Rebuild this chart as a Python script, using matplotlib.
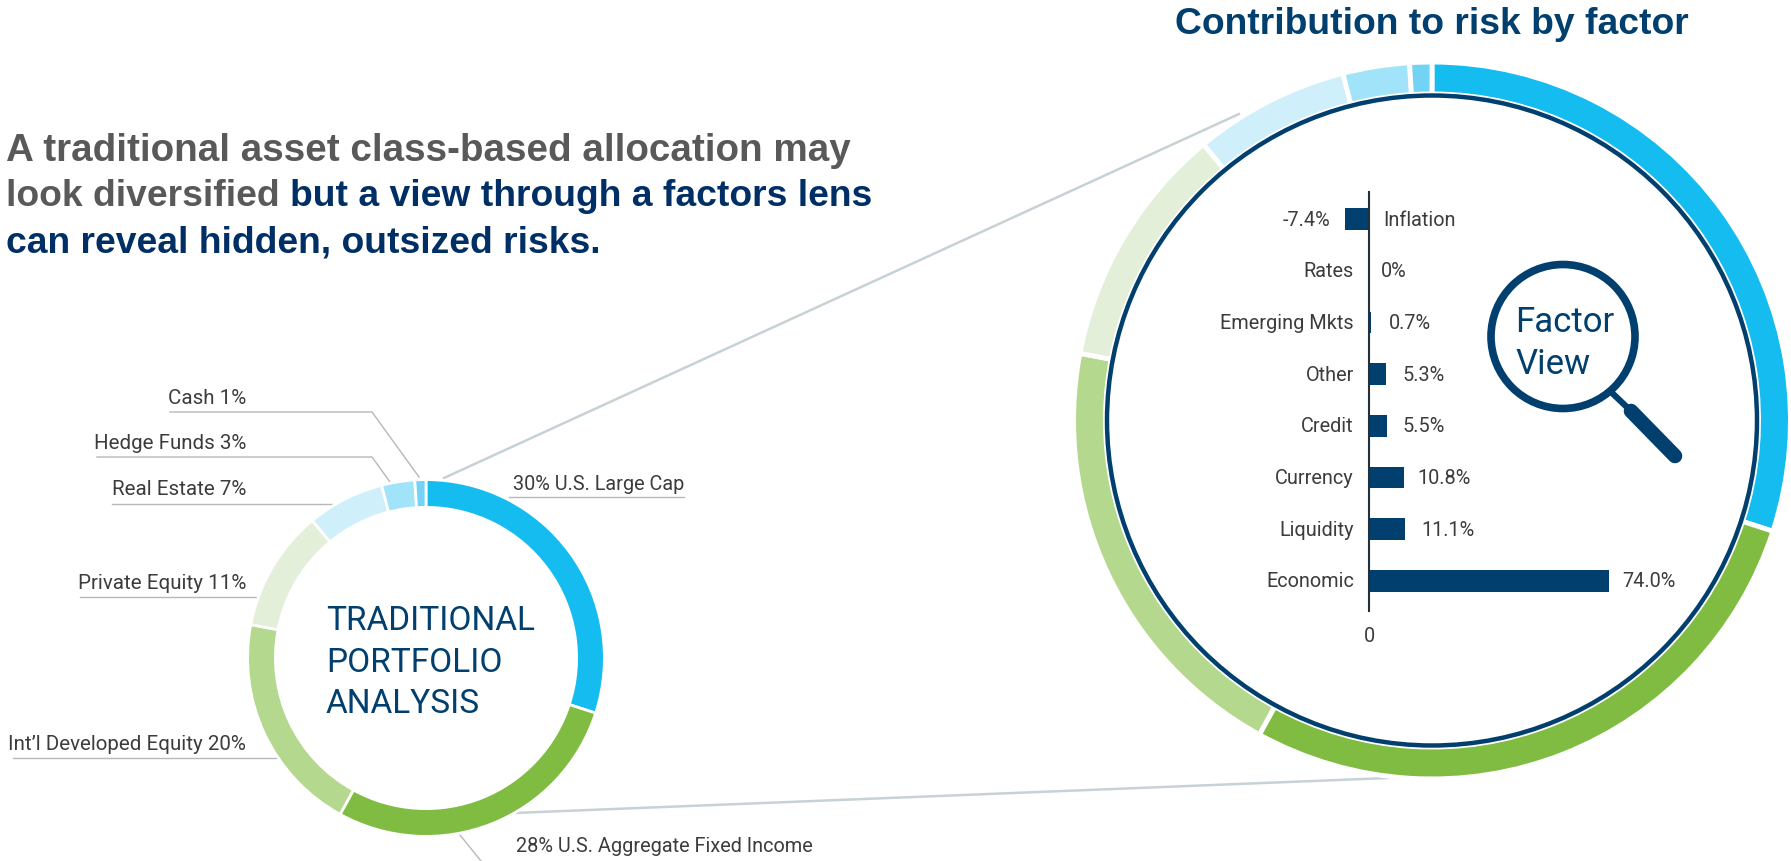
import matplotlib
matplotlib.use('Agg')
import matplotlib.pyplot as plt
from matplotlib.patches import Circle

W, H = 1791, 862

# portfolio weights, clockwise from 12 o'clock
asset_names = ['U.S. Large Cap', 'U.S. Aggregate Fixed Income', "Int\u2019l Developed Equity",
               'Private Equity', 'Real Estate', 'Hedge Funds', 'Cash']
asset_weights = [30, 28, 20, 11, 7, 3, 1]
asset_colors = ['#14bcf0', '#80bc41', '#b3d88e', '#e4efd9', '#cff0fb', '#a1e4f9', '#73d3f5']

# risk contribution by factor
factors = ['Inflation', 'Rates', 'Emerging Mkts', 'Other', 'Credit', 'Currency', 'Liquidity', 'Economic']
factor_risk = [-7.4, 0, 0.7, 5.3, 5.5, 10.8, 11.1, 74.0]
risk_labels = ['-7.4%', '0%', '0.7%', '5.3%', '5.5%', '10.8%', '11.1%', '74.0%']

NAVY = '#003f6e'
DARK_NAVY = '#002f66'
GREY = '#595959'
LINE = '#c6d2d5'
LEADER = '#b5b9bb'
TXT = '#3c3c3c'
LABEL_SIZE = 14.3
plt.rcParams['font.family'] = ['Roboto', 'DejaVu Sans']


def px_axes(fig, left, top, width, height):
    return fig.add_axes([left / W, 1 - (top + height) / H, width / W, height / H])


fig = plt.figure(figsize=(W / 100, H / 100), dpi=100)

# page layer, pixel coords
bg = fig.add_axes([0, 0, 1, 1])
bg.set_xlim(0, W)
bg.set_ylim(H, 0)
bg.axis('off')

# lines joining the two rings
bg.plot([444, 1239], [479, 115], color=LINE, lw=1.8)
bg.plot([514, 1388], [814, 779], color=LINE, lw=1.8)

# small ring leaders
leaders = [([170, 372, 419], [413, 413, 478]),
           ([97, 372, 390], [458, 458, 483]),
           ([112, 333], [505, 505]),
           ([80, 257], [598, 598]),
           ([13, 278], [759, 759]),
           ([509, 684], [498, 498]),
           ([460, 481], [836, 862])]
for xs, ys in leaders:
    bg.plot(xs, ys, color=LEADER, lw=1.0)


def donut(cx, cy, r, thick, gap):
    # white wedge edge eats half its width, so grow the pie to compensate
    edge = gap * 100 / 72
    r = r + edge / 2
    thick = thick + edge
    ax = px_axes(fig, cx - r, cy - r, 2 * r, 2 * r)
    ax.pie(asset_weights, colors=asset_colors, startangle=90, counterclock=False, radius=1,
           wedgeprops=dict(width=thick / r, edgecolor='white', linewidth=gap))
    ax.set_xlim(-1, 1)
    ax.set_ylim(-1, 1)
    ax.patch.set_alpha(0)
    return ax


donut(426, 659, 177, 25, 2.0)
big = donut(1432, 421.5, 356, 27, 3.5)

# top layer for text and magnifier
top = fig.add_axes([0, 0, 1, 1])
top.set_xlim(0, W)
top.set_ylim(H, 0)
top.axis('off')
top.patch.set_alpha(0)

# navy ring inside the big donut
top.add_patch(Circle((1432, 421.5), 325, fill=False, ec=NAVY, lw=3.2))

# headline
title_font = dict(family='Liberation Sans', weight='bold', fontsize=26.8, va='center')
hfont = dict(family='Liberation Sans', weight='bold', fontsize=26.8, va='center')
top.text(1175, 24, 'Contribution to risk by factor', color=NAVY, **title_font)
top.text(6, 151, 'A traditional asset class-based allocation may', color=GREY,
         family='Liberation Sans', weight='bold', fontsize=27.8, va='center')
t2 = top.text(6, 197, 'look diversified ', color=GREY, **hfont)
top.annotate('but a view through a factors lens', xy=(1, 0.5), xycoords=t2, color=DARK_NAVY,
             ha='left', **hfont)
top.text(6, 243, 'can reveal hidden, outsized risks.', color=DARK_NAVY, **hfont)

# ring labels
lab = dict(color=TXT, va='center')
left_labels = [(6, 399), (5, 444), (4, 490), (3, 584), (2, 745)]
for i, y in left_labels:
    top.text(246, y, '%s %d%%' % (asset_names[i], asset_weights[i]), ha='right', fontsize=14.8, **lab)
top.text(513, 485, '%d%% %s' % (asset_weights[0], asset_names[0]), ha='left', fontsize=LABEL_SIZE, **lab)
top.text(516, 847, '%d%% %s' % (asset_weights[1], asset_names[1]), ha='left', fontsize=LABEL_SIZE, **lab)

# ring title
for y, s in zip([621, 663, 704], ['TRADITIONAL', 'PORTFOLIO', 'ANALYSIS']):
    top.text(326, y, s, color=NAVY, fontsize=24, va='center', ha='left')

# magnifier
top.add_patch(Circle((1563, 337.5), 72, fill=False, ec=NAVY, lw=5.5))
top.plot([1610, 1631], [392, 412], color=NAVY, lw=4.5, solid_capstyle='butt')
top.plot([1631, 1675], [412, 457], color=NAVY, lw=10.5, solid_capstyle='round')
top.text(1515, 323, 'Factor', color=NAVY, fontsize=25, va='center', ha='left')
top.text(1515, 365, 'View', color=NAVY, fontsize=25, va='center', ha='left')

# factor bars, 3.25 px per percentage point, 51.7 px per row
bar_left, bar_right = 1300, 1650
ax = px_axes(fig, bar_left, 193, bar_right - bar_left, 419)
ax.patch.set_alpha(0)
ax.set_xlim((bar_left - 1369) / 3.25, (bar_right - 1369) / 3.25)
ax.set_ylim(-(220 - 193) / 51.7, 7 + (612 - 582) / 51.7)
ax.invert_yaxis()
ax.barh(range(len(factors)), factor_risk, height=0.42, color=NAVY)
for s in ['top', 'right', 'bottom']:
    ax.spines[s].set_visible(False)
ax.spines['left'].set_position(('data', 0))
ax.spines['left'].set_color('#22303c')
ax.spines['left'].set_linewidth(1.5)
ax.set_yticks([])
ax.set_xticks([0])
ax.set_xticklabels(['0'], fontsize=LABEL_SIZE, color=TXT)
ax.tick_params(axis='x', length=0, pad=11)

value_gaps = [15, 12, 18, 16, 16, 13, 16, 13]
for i, name in enumerate(factors):
    v = factor_risk[i]
    if v < 0:
        ax.annotate(name, xy=(0, i), xytext=(14, 0), textcoords='offset pixels',
                    ha='left', va='center', fontsize=LABEL_SIZE, color=TXT)
        ax.annotate(risk_labels[i], xy=(v, i), xytext=(-value_gaps[i], 0), textcoords='offset pixels',
                    ha='right', va='center', fontsize=LABEL_SIZE, color=TXT)
    else:
        ax.annotate(name, xy=(0, i), xytext=(-15, 0), textcoords='offset pixels',
                    ha='right', va='center', fontsize=LABEL_SIZE, color=TXT)
        ax.annotate(risk_labels[i], xy=(v, i), xytext=(value_gaps[i], 0), textcoords='offset pixels',
                    ha='left', va='center', fontsize=LABEL_SIZE, color=TXT)

fig.savefig('out.png', dpi=100, facecolor='white')
